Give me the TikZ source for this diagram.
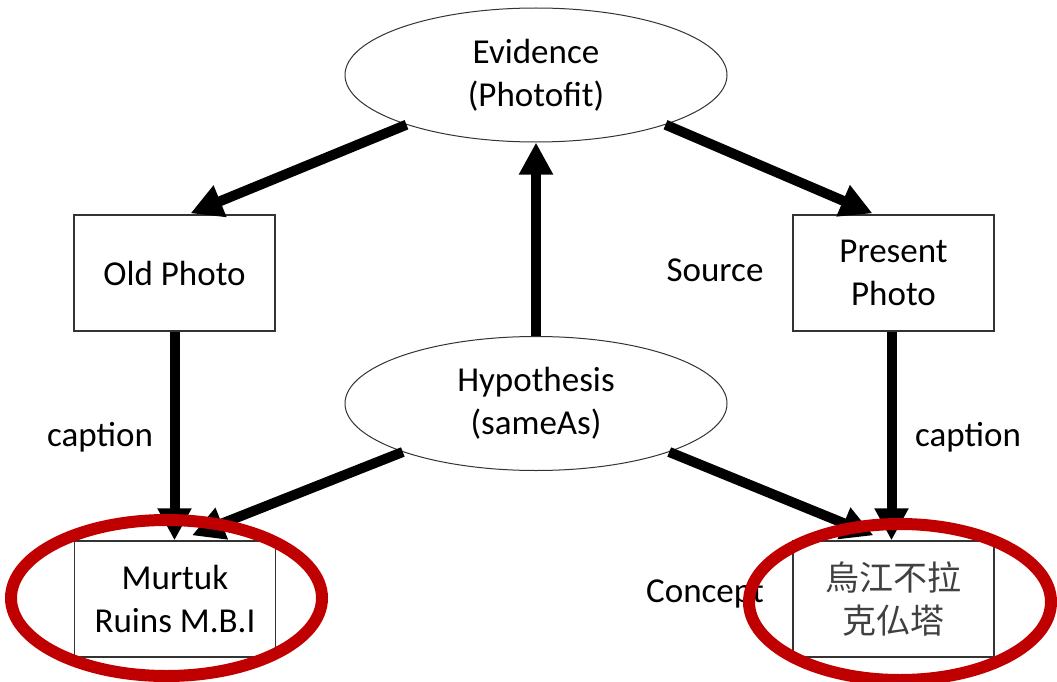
\documentclass[tikz,border=0pt]{standalone}
\usepackage{fontspec}
\setmainfont{Carlito}
\newfontfamily\cjkfont{Noto Sans CJK TC}
\usetikzlibrary{arrows.meta,shapes.geometric,calc}
\definecolor{ringred}{RGB}{192,0,0}
\begin{document}
\begin{tikzpicture}[x=1pt,y=-1pt,
  every node/.style={font=\fontsize{35}{43}\selectfont},
  oval/.style={draw=black!80, line width=1pt, ellipse, fill=white,
    minimum width=382pt, minimum height=134pt, inner sep=0pt, align=center},
  box/.style={draw=black!80, line width=1.3pt, fill=white,
    minimum width=201pt, minimum height=116pt, inner sep=0pt, align=center},
  link/.style={line width=10pt, -{Triangle[length=32pt,width=32pt]}},
  lbl/.style={inner sep=0pt},
  ring/.style={draw=ringred, line width=12pt}]
\useasboundingbox (0,0) rectangle (1057,682);

% ovals
\node[oval] (ev)  at (536,75)    {Evidence\\(Photofit)};
\node[oval] (hyp) at (536,403.5) {Hypothesis\\(sameAs)};

% boxes
\node[box] (old)  at (174.5,273) {Old Photo};
\node[box] (pres) at (893.5,273) {Present\\Photo};
\node[box] (mur)  at (175,599)   {Murtuk\\Ruins M.B.I};
\node[box, font=\cjkfont\fontsize{34}{43}\selectfont, text=black!75] (cjk) at (893.5,599) {烏江不拉\\克仏塔};

% free labels
\node[lbl] (capL) at (100,437) {caption};
\node[lbl] (capR) at (968,437) {caption};
\node[lbl] (src)  at (715,270) {Source};
\node[lbl] (con)  at (705,594) {Concept};

% connectors
\draw[link] (ev.201) -- ($(old.north)+(16,-1)$);
\draw[link] (ev.339) -- ($(pres.north)+(-21,-1)$);
\draw[link] (hyp.north) -- (ev.south);
\draw[link] (old.south) -- (old.south |- mur.north);
\draw[link] ($(pres.south)+(-2,0)$) -- ($(pres.south |- cjk.north)+(-2,0)$);
\draw[link] (hyp.200) -- ($(mur.north)+(17,-5)$);
\draw[link] (hyp.340) -- ($(cjk.north)+(-20,-5)$);

% highlight rings
\draw[ring] (166.5,598) ellipse [x radius=155.5, y radius=78];
\draw[ring] (900,602) ellipse [x radius=151, y radius=78];
\end{tikzpicture}
\end{document}
